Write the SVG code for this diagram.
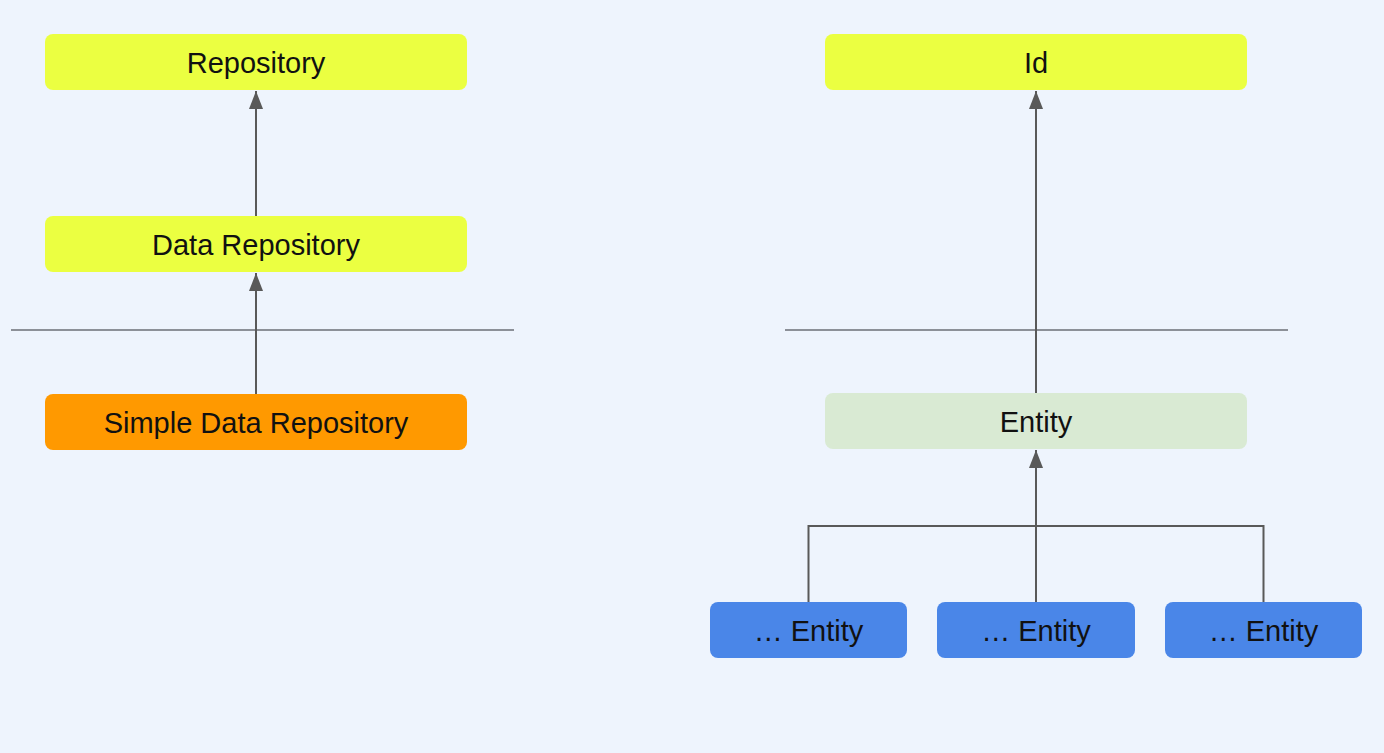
<svg xmlns="http://www.w3.org/2000/svg" width="1384" height="753" viewBox="0 0 1384 753">
<defs>
<marker id="arr" viewBox="0 0 18 14" refX="18" refY="7" markerWidth="18" markerHeight="14" markerUnits="userSpaceOnUse" orient="auto">
<path d="M18 7 L0 14 L0 0 Z" fill="#595959"/>
</marker>
<style>
.lbl{font-family:"Liberation Sans",Arial,sans-serif;font-size:29px;fill:#111;text-anchor:middle}
.conn{stroke:#595959;stroke-width:2;fill:none}
.sep{stroke:#6b6f76;stroke-width:1.5}
</style>
</defs>
<rect width="1384" height="753" fill="#eef4fd"/>
<g id="separators">
<line class="sep" x1="11" y1="330" x2="514" y2="330"/>
<line class="sep" x1="785" y1="330" x2="1288" y2="330"/>
</g>
<g id="connectors">
<line class="conn" x1="256" y1="216" x2="256" y2="91" marker-end="url(#arr)"/>
<line class="conn" x1="256" y1="394" x2="256" y2="273" marker-end="url(#arr)"/>
<line class="conn" x1="1036" y1="393" x2="1036" y2="91" marker-end="url(#arr)"/>
<line class="conn" x1="1036" y1="602" x2="1036" y2="450" marker-end="url(#arr)"/>
<polyline class="conn" points="808.5,602 808.5,526 1263.5,526 1263.5,602"/>
</g>
<g id="repository">
<rect x="45" y="34" width="422" height="56" rx="8" fill="#ebff41"/>
<text class="lbl" x="256" y="73">Repository</text>
</g>
<g id="data-repository">
<rect x="45" y="216" width="422" height="56" rx="8" fill="#ebff41"/>
<text class="lbl" x="256" y="255">Data Repository</text>
</g>
<g id="simple-data-repository">
<rect x="45" y="394" width="422" height="56" rx="8" fill="#ff9900"/>
<text class="lbl" x="256" y="433">Simple Data Repository</text>
</g>
<g id="id">
<rect x="825" y="34" width="422" height="56" rx="8" fill="#ebff41"/>
<text class="lbl" x="1036" y="73">Id</text>
</g>
<g id="entity">
<rect x="825" y="393" width="422" height="56" rx="8" fill="#d9ead3"/>
<text class="lbl" x="1036" y="432">Entity</text>
</g>
<g id="entity-1">
<rect x="710" y="602" width="197" height="56" rx="8" fill="#4a86e8"/>
<text class="lbl" x="808.5" y="641">… Entity</text>
</g>
<g id="entity-2">
<rect x="937" y="602" width="198" height="56" rx="8" fill="#4a86e8"/>
<text class="lbl" x="1036" y="641">… Entity</text>
</g>
<g id="entity-3">
<rect x="1165" y="602" width="197" height="56" rx="8" fill="#4a86e8"/>
<text class="lbl" x="1263.5" y="641">… Entity</text>
</g>
</svg>
